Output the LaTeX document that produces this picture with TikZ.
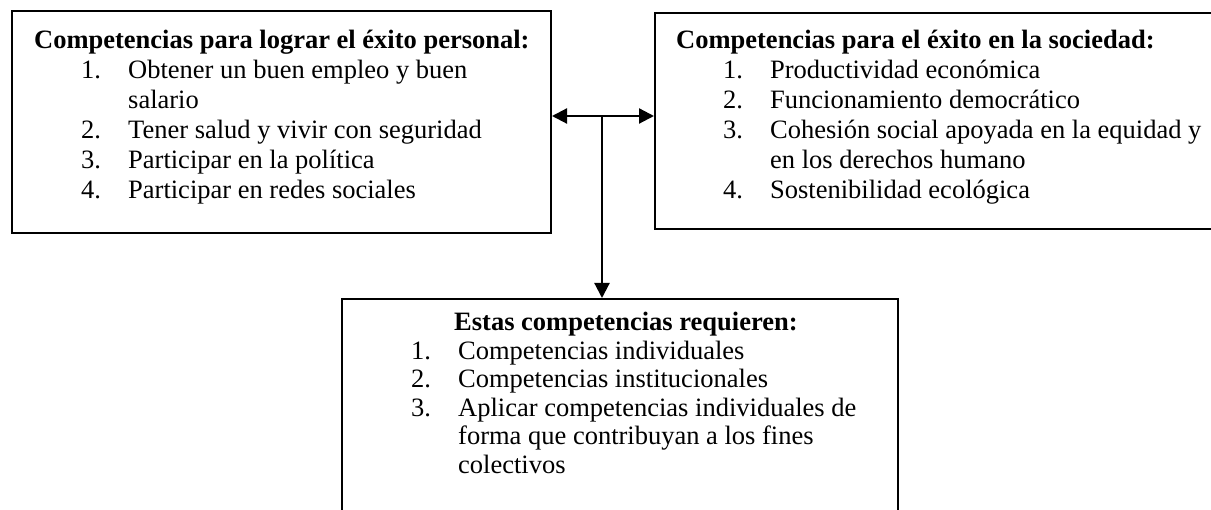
\documentclass[tikz,border=0pt]{standalone}
\usepackage{fontspec}
\setmainfont{Liberation Serif}
\usetikzlibrary{arrows.meta}
\tikzset{
  box/.style={draw=black, line width=2pt, inner sep=0pt},
  txt/.style={anchor=north west, inner sep=0pt, align=left, font=\fontsize{26.5}{30}\selectfont},
  txtb/.style={txt, font=\fontsize{26.5}{28.5}\selectfont},
  tip/.tip={Triangle[length=15pt,width=15pt]},
  conn/.style={line width=2.2pt, -tip},
  conn2/.style={line width=2.2pt, tip-tip}
}
\newcommand{\itm}[2]{\hspace*{#1pt}\makebox[47pt][l]{#2}}
\newcommand{\cnt}[1]{\hspace*{#1pt}}
\begin{document}
\begin{tikzpicture}[x=1pt,y=-1pt]
\useasboundingbox (0,0) rectangle (1211,510);
\clip (0,0) rectangle (1211,510);
% boxes
\node[box, minimum width=539pt, minimum height=222pt] (lbox) at (281.5,122) {};
\node[box, minimum width=559pt, minimum height=216pt] (rbox) at (934.5,121) {};
\node[box, minimum width=556pt, minimum height=216pt] (bbox) at (620,407) {};
% texts
\node[txt] (ltxt) at (34,30) {\textbf{Competencias para lograr el éxito personal:}\\
\itm{47}{1.}Obtener un buen empleo y buen\\
\cnt{94}salario\\
\itm{47}{2.}Tener salud y vivir con seguridad\\
\itm{47}{3.}Participar en la política\\
\itm{47}{4.}Participar en redes sociales};
\node[txt] (rtxt) at (676,30) {\textbf{Competencias para el éxito en la sociedad:}\\
\itm{47}{1.}Productividad económica\\
\itm{47}{2.}Funcionamiento democrático\\
\itm{47}{3.}Cohesión social apoyada en la equidad y\\
\cnt{94}en los derechos humano\\
\itm{47}{4.}Sostenibilidad ecológica};
\node[txtb] (btxt) at (411,312) {\hspace*{43pt}\textbf{Estas competencias requieren:}\\
\itm{0}{1.}Competencias individuales\\
\itm{0}{2.}Competencias institucionales\\
\itm{0}{3.}Aplicar competencias individuales de\\
\cnt{47}forma que contribuyan a los fines\\
\cnt{47}colectivos};
% connectors
\coordinate (j) at (602,116);
\draw[conn2] (lbox.east |- j) -- (rbox.west |- j);
\draw[conn] (j) -- (j |- bbox.north);
\end{tikzpicture}
\end{document}
